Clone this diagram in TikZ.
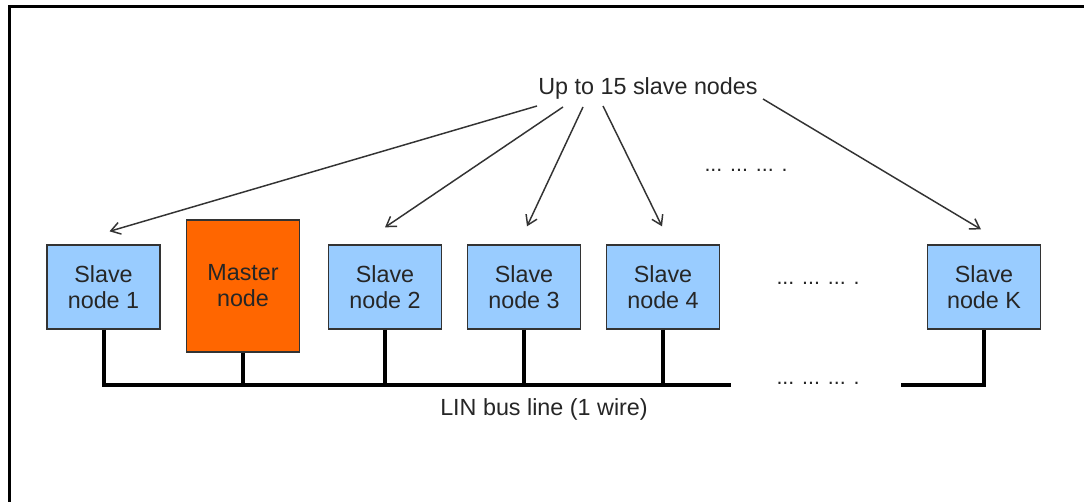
\documentclass[tikz,border=0pt]{standalone}
\usepackage{fontspec}
\setmainfont{Liberation Sans}
\usetikzlibrary{calc,arrows.meta}
\definecolor{slaveblue}{HTML}{99CCFF}
\definecolor{masterorange}{HTML}{FF6600}
\definecolor{linegray}{HTML}{333333}
\begin{document}
\begin{tikzpicture}[x=0.75pt,y=-0.75pt,
  every node/.style={font=\fontsize{17.5}{19.5}\selectfont, text=black!85},
  nodebox/.style={draw=black!80, line width=1pt, inner sep=0pt, align=center,
    minimum width=84.75pt},
  slavebox/.style={nodebox, fill=slaveblue, minimum height=63pt},
  masterbox/.style={nodebox, fill=masterorange, minimum height=99pt},
  pointer/.style={draw=linegray, line width=1.1pt,
    -{Straight Barb[length=7pt,width=9pt,line width=1.1pt]}},
  bus/.style={draw=black, line width=3pt, line cap=butt, line join=miter},
  gap/.style={font=\fontsize{16}{18}\selectfont},
  frame/.style={draw=black, line width=2.4pt}
]
\useasboundingbox (0,0) rectangle (1084,502);
\fill[white] (0,0) rectangle (1084,502);

% outer frame (top and left edges)
\draw[frame] (9.5,502) -- (9.5,6.5) -- (1084,6.5);

% station boxes
\node[slavebox]  (s1) at (103.5,287) {Slave\\node 1};
\node[masterbox] (m)  at (243,286)   {Master\\node};
\node[slavebox]  (s2) at (385,287)   {Slave\\node 2};
\node[slavebox]  (s3) at (524,287)   {Slave\\node 3};
\node[slavebox]  (s4) at (663,287)   {Slave\\node 4};
\node[slavebox]  (sK) at (984,287)   {Slave\\node K};

% labels
\node (up)  at (648,88)  {Up to 15 slave nodes};
\node (lin) at (544,409) {LIN bus line (1 wire)};
\node[gap] (d1) at (746,170) {... ... ... .};
\node[gap] (d2) at (818,283) {... ... ... .};
\node[gap] (d3) at (818,383) {... ... ... .};

% arrow origins under the label
\coordinate (u1) at (537,106);
\coordinate (u2) at (563,107);
\coordinate (u3) at (583,107);
\coordinate (u4) at (603,106);
\coordinate (uK) at (763,99);

\draw[pointer] (u1) -- ($(s1.north)+(6,-13)$);
\draw[pointer] (u2) -- ($(s2.north)+(0,-17)$);
\draw[pointer] (u3) -- ($(s3.north)+(3,-18)$);
\draw[pointer] (u4) -- ($(s4.north)+(-1,-18)$);
\draw[pointer] (uK) -- ($(sK.north)+(-3,-15)$);

% bus line and stubs
\coordinate (busL) at (731,385);
\coordinate (busR) at (901,385);
\draw[bus] (s1.south) |- (busL);
\draw[bus] (m.south)  -- (m.south |- busL);
\draw[bus] (s2.south) -- (s2.south |- busL);
\draw[bus] (s3.south) -- (s3.south |- busL);
\draw[bus] (s4.south) -- (s4.south |- busL);
\draw[bus] (busR) -| (sK.south);
\end{tikzpicture}
\end{document}
